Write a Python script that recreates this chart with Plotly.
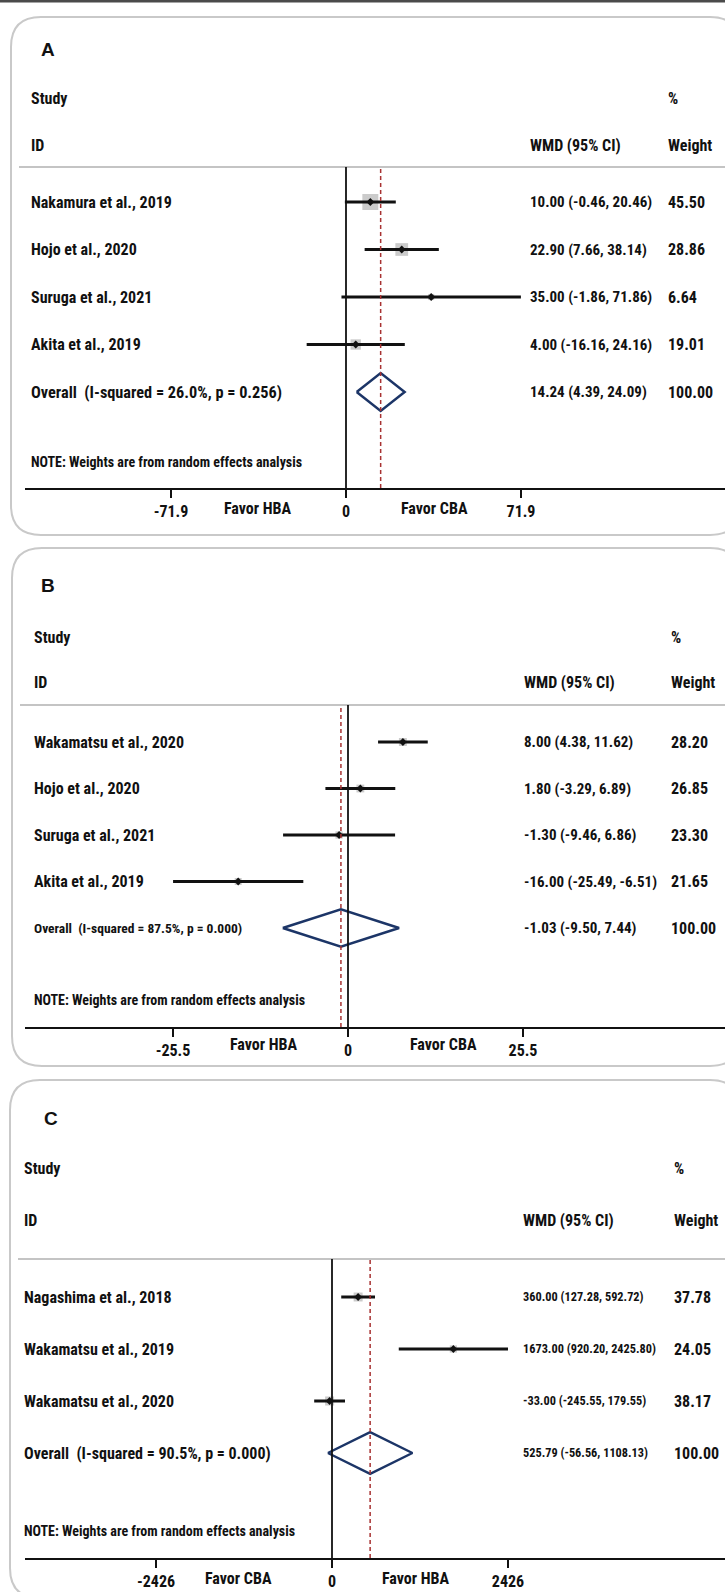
import plotly.graph_objects as go

W, H = 725, 1592

# ---------------- data ----------------
a_names = ["Nakamura et al., 2019", "Hojo et al., 2020", "Suruga et al., 2021", "Akita et al., 2019"]
a_est = [10.00, 22.90, 35.00, 4.00]
a_lo = [-0.46, 7.66, -1.86, -16.16]
a_hi = [20.46, 38.14, 71.86, 24.16]
a_w = [45.50, 28.86, 6.64, 19.01]
a_overall = [14.24, 4.39, 24.09]
a_i2, a_p = "26.0%", "0.256"
a_tick = 71.9
a_favor = ["Favor HBA", "Favor CBA"]

b_names = ["Wakamatsu et al., 2020", "Hojo et al., 2020", "Suruga et al., 2021", "Akita et al., 2019"]
b_est = [8.00, 1.80, -1.30, -16.00]
b_lo = [4.38, -3.29, -9.46, -25.49]
b_hi = [11.62, 6.89, 6.86, -6.51]
b_w = [28.20, 26.85, 23.30, 21.65]
b_overall = [-1.03, -9.50, 7.44]
b_i2, b_p = "87.5%", "0.000"
b_tick = 25.5
b_favor = ["Favor HBA", "Favor CBA"]

c_names = ["Nagashima et al., 2018", "Wakamatsu et al., 2019", "Wakamatsu et al., 2020"]
c_est = [360.00, 1673.00, -33.00]
c_lo = [127.28, 920.20, -245.55]
c_hi = [592.72, 2425.80, 179.55]
c_w = [37.78, 24.05, 38.17]
c_overall = [525.79, -56.56, 1108.13]
c_i2, c_p = "90.5%", "0.000"
c_tick = 2426
c_favor = ["Favor CBA", "Favor HBA"]

# ---------------- layout (pixel geometry) ----------------
panels = [
    dict(letter="A", names=a_names, est=a_est, lo=a_lo, hi=a_hi, w=a_w, ov=a_overall, i2=a_i2, p=a_p,
         tick=a_tick, favor=a_favor,
         box=(11, 17, 740, 535), letter_y=50, study_y=98, id_y=145, sep=167, axis=488,
         row0=202, step=47.5, note_y=462, name_x=29, wmd_x=528, wt_x=666, letter_x=39,
         zero_px=346, tick_px=521, favor_x=(258, 434), favor_y=508, box_k=2.37,
         num_size=15, ov_size=16.3),
    dict(letter="B", names=b_names, est=b_est, lo=b_lo, hi=b_hi, w=b_w, ov=b_overall, i2=b_i2, p=b_p,
         tick=b_tick, favor=b_favor,
         box=(12, 548, 740, 1066), letter_y=585, study_y=637, id_y=683, sep=705, axis=1027,
         row0=742, step=46.5, note_y=1000, name_x=32, wmd_x=522, wt_x=669, letter_x=39,
         zero_px=348, tick_px=523, favor_x=(264, 444), favor_y=1044, box_k=1.5,
         num_size=15, ov_size=13.5),
    dict(letter="C", names=c_names, est=c_est, lo=c_lo, hi=c_hi, w=c_w, ov=c_overall, i2=c_i2, p=c_p,
         tick=c_tick, favor=c_favor,
         box=(10, 1080, 740, 1598), letter_y=1118, study_y=1168, id_y=1220, sep=1259, axis=1558,
         row0=1297, step=52, note_y=1531, name_x=22, wmd_x=521, wt_x=672, letter_x=42,
         zero_px=332, tick_px=508, favor_x=(238, 416), favor_y=1578, box_k=1.46,
         num_size=12.3, ov_size=16),
]

FONT = "Liberation Sans Narrow, Arial Narrow, Roboto Condensed, DejaVu Sans Condensed, sans-serif"
AX_LEFT = 25

def px(x):
    return x / W

def py(y):
    return 1 - y / H

fig = go.Figure()
shapes = []
annots = []

# top dark rule
shapes.append(dict(type="line", xref="paper", yref="paper", x0=0, x1=1, y0=py(1), y1=py(1),
                   line=dict(color="#4a4a4a", width=3)))

def rounded_path(x0, y0, x1, y1, r):
    def P(x, y):
        return f"{px(x):.5f},{py(y):.5f}"
    return (f"M {P(x0 + r, y0)} L {P(x1 - r, y0)} Q {P(x1, y0)} {P(x1, y0 + r)} "
            f"L {P(x1, y1 - r)} Q {P(x1, y1)} {P(x1 - r, y1)} L {P(x0 + r, y1)} "
            f"Q {P(x0, y1)} {P(x0, y1 - r)} L {P(x0, y0 + r)} Q {P(x0, y0)} {P(x0 + r, y0)} Z")

def text(x, y, s, size=16, anchor="left", bold=True, yref="paper", xref="paper", family=FONT):
    annots.append(dict(x=x, y=y, xref=xref, yref=yref, text=s, showarrow=False,
                       xanchor=anchor, yanchor="middle",
                       font=dict(family=family, size=size, color="#111111",
                                 weight="bold" if bold else "normal")))

layout_axes = {}
for i, pn in enumerate(panels):
    k = "" if i == 0 else str(i + 1)
    xa, ya = "x" + k, "y" + k
    bx0, by0, bx1, by1 = pn["box"]
    shapes.append(dict(type="path", xref="paper", yref="paper", path=rounded_path(bx0, by0, bx1, by1, 30),
                       line=dict(color="#c9c9c9", width=2), fillcolor="rgba(0,0,0,0)", layer="below"))
    # separator under header
    shapes.append(dict(type="line", xref="paper", yref="paper", x0=px(bx0 + 8), x1=1,
                       y0=py(pn["sep"]), y1=py(pn["sep"]), line=dict(color="#c4c4c4", width=2)))

    # x scale
    s = (pn["tick_px"] - pn["zero_px"]) / pn["tick"]
    x0 = -(pn["zero_px"] - AX_LEFT) / s
    x1 = x0 + (W - AX_LEFT) / s
    # y scale (rows)
    top_val = (pn["sep"] - pn["row0"]) / pn["step"]
    bot_val = (pn["axis"] - pn["row0"]) / pn["step"]
    layout_axes["xaxis" + k] = dict(domain=[AX_LEFT / W, 1], range=[x0, x1], anchor=ya,
                                    showgrid=False, zeroline=False, showline=True,
                                    linecolor="#111111", linewidth=2, ticks="outside",
                                    ticklen=8, tickwidth=2, tickcolor="#111111",
                                    tickvals=[-pn["tick"], 0, pn["tick"]],
                                    ticktext=[f"-{pn['tick']}", "0", f"{pn['tick']}"],
                                    tickfont=dict(family=FONT, size=16, color="#111111", weight="bold"),
                                    fixedrange=True)
    layout_axes["yaxis" + k] = dict(domain=[py(pn["axis"]), py(pn["sep"])], range=[bot_val, top_val],
                                    anchor=xa, showgrid=False, zeroline=False, showline=False,
                                    showticklabels=False, ticks="", fixedrange=True)

    n = len(pn["names"])
    rows = list(range(n))
    # zero line and overall dashed line
    shapes.append(dict(type="line", xref=xa, yref=ya + " domain", x0=0, x1=0, y0=0, y1=1,
                       line=dict(color="#111111", width=1.8)))
    shapes.append(dict(type="line", xref=xa, yref=ya + " domain", x0=pn["ov"][0], x1=pn["ov"][0], y0=0, y1=1,
                       line=dict(color="#a83232", width=1.5, dash="4px,3px")))

    # weight squares
    fig.add_trace(go.Scatter(x=pn["est"], y=rows, xaxis=xa, yaxis=ya, mode="markers",
                             marker=dict(symbol="square", color="#b5b5b5",
                                         size=[pn["box_k"] * (w ** 0.5) for w in pn["w"]],
                                         line=dict(width=0)),
                             hoverinfo="skip", showlegend=False))
    # CI lines
    cx, cy = [], []
    for r, lo, hi in zip(rows, pn["lo"], pn["hi"]):
        cx += [lo, hi, None]
        cy += [r, r, None]
    fig.add_trace(go.Scatter(x=cx, y=cy, xaxis=xa, yaxis=ya, mode="lines",
                             line=dict(color="#111111", width=3), hoverinfo="skip", showlegend=False))
    # point estimates
    fig.add_trace(go.Scatter(x=pn["est"], y=rows, xaxis=xa, yaxis=ya, mode="markers",
                             marker=dict(symbol="diamond", color="#111111", size=6),
                             hoverinfo="skip", showlegend=False))
    # overall diamond
    e, lo, hi = pn["ov"]
    hh = 0.4
    fig.add_trace(go.Scatter(x=[lo, e, hi, e, lo], y=[n, n - hh, n, n + hh, n], xaxis=xa, yaxis=ya,
                             mode="lines", line=dict(color="#1c3567", width=2.5),
                             hoverinfo="skip", showlegend=False))

    # header texts
    text(px(pn["letter_x"]), py(pn["letter_y"]), pn["letter"], size=19,
         family="Liberation Sans, Arial, sans-serif")
    text(px(pn["name_x"]), py(pn["study_y"]), "Study")
    text(px(pn["name_x"]), py(pn["id_y"]), "ID")
    text(px(pn["wt_x"]), py(pn["study_y"]), "%")
    text(px(pn["wmd_x"]), py(pn["id_y"]), "WMD (95% CI)")
    text(px(pn["wt_x"]), py(pn["id_y"]), "Weight")

    # study rows
    for r, nm, es, l, h, w in zip(rows, pn["names"], pn["est"], pn["lo"], pn["hi"], pn["w"]):
        text(px(pn["name_x"]), r, nm, yref=ya)
        text(px(pn["wmd_x"]), r, f"{es:.2f} ({l:.2f}, {h:.2f})", size=pn["num_size"], yref=ya)
        text(px(pn["wt_x"]), r, f"{w:.2f}", yref=ya)
    text(px(pn["name_x"]), n, f"Overall  (I-squared = {pn['i2']}, p = {pn['p']})", size=pn["ov_size"], yref=ya)
    text(px(pn["wmd_x"]), n, f"{e:.2f} ({lo:.2f}, {hi:.2f})", size=pn["num_size"], yref=ya)
    text(px(pn["wt_x"]), n, "100.00", yref=ya)
    text(px(pn["name_x"]), py(pn["note_y"]), "NOTE: Weights are from random effects analysis", size=14)

    # favor labels
    text(px(pn["favor_x"][0]), py(pn["favor_y"]), pn["favor"][0], anchor="center")
    text(px(pn["favor_x"][1]), py(pn["favor_y"]), pn["favor"][1], anchor="center")

fig.update_layout(width=W, height=H, margin=dict(l=0, r=0, t=0, b=0),
                  paper_bgcolor="white", plot_bgcolor="rgba(0,0,0,0)",
                  shapes=shapes, annotations=annots, showlegend=False, **layout_axes)

fig.write_html("out.html", config={"displayModeBar": False, "staticPlot": True},
               post_script="document.body.style.margin='0';document.body.style.padding='0';"
                           "document.body.style.overflow='hidden';"
                           "document.documentElement.style.overflow='hidden';")
